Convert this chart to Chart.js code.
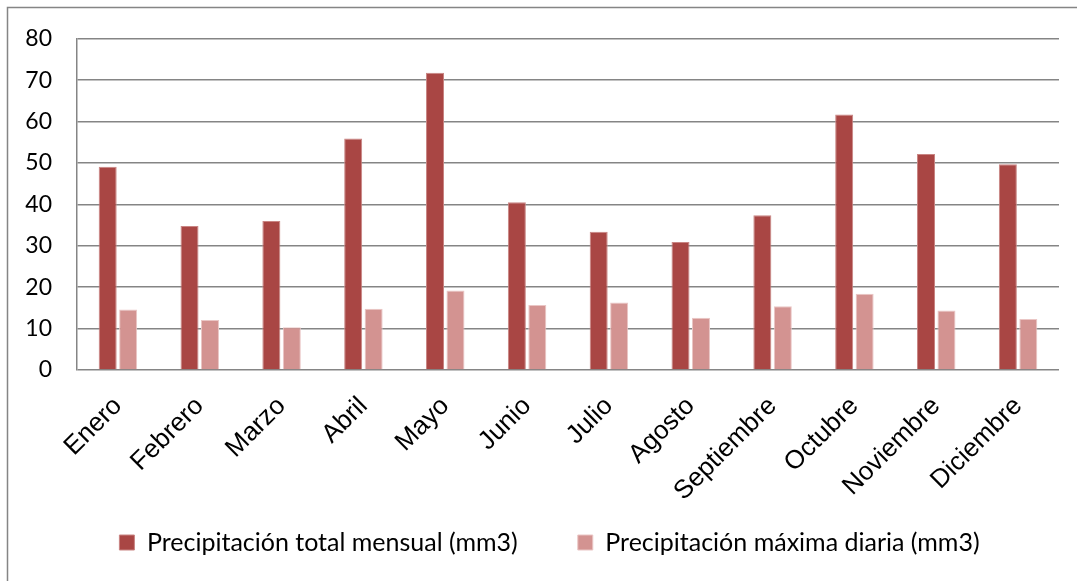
<!DOCTYPE html>
<html>
<head>
<meta charset="utf-8">
<script src="https://cdn.jsdelivr.net/npm/chart.js@4/dist/chart.umd.min.js"></script>
<style>
  html, body { margin: 0; padding: 0; background: #fff; overflow: hidden; }
  #wrap { width: 1077px; height: 581px; }
</style>
</head>
<body>
<div id="wrap"><canvas id="c" width="1077" height="581"></canvas></div>
<script>
// Monthly precipitation: total per month and maximum daily value
const meses = ['Enero', 'Febrero', 'Marzo', 'Abril', 'Mayo', 'Junio', 'Julio',
               'Agosto', 'Septiembre', 'Octubre', 'Noviembre', 'Diciembre'];
const totalMensual = [49.1, 34.8, 36.0, 55.9, 71.8, 40.5, 33.4, 30.9, 37.4, 61.7, 52.2, 49.7];
const maximaDiaria = [14.6, 12.1, 10.3, 14.8, 19.2, 15.7, 16.3, 12.6, 15.4, 18.4, 14.4, 12.3];
const yTicks = [0, 10, 20, 30, 40, 50, 60, 70, 80];

const serieNombres = ['Precipitación total mensual (mm3)', 'Precipitación máxima diaria (mm3)'];

const gridGray = '#858585';

// White page background plus the thin frame around the whole chart
const framePlugin = {
  id: 'frame',
  beforeDraw(chart) {
    const ctx = chart.ctx;
    ctx.save();
    ctx.fillStyle = '#ffffff';
    ctx.fillRect(0, 0, chart.width, chart.height);
    ctx.strokeStyle = gridGray;
    ctx.lineWidth = 1.5;
    ctx.strokeRect(7.5, 7.5, chart.width + 20, chart.height + 20);
    ctx.restore();
  }
};

// Keep the legend band compact while the item spacing stays wide,
// and nudge the legend row a little to the right
const LEGEND_BAND = 90;
const LEGEND_SHIFT = 20;
const legendBandPlugin = {
  id: 'legendBand',
  beforeLayout(chart) {
    const lg = chart.legend;
    if (lg && !lg._bandPatched) {
      const fit = lg.fit;
      lg.fit = function () {
        fit.call(this);
        this.height = LEGEND_BAND;
      };
      lg._bandPatched = true;
    }
  },
  afterLayout(chart) {
    const lg = chart.legend;
    if (lg) {
      lg.left += LEGEND_SHIFT;
      lg.right += LEGEND_SHIFT;
    }
  }
};

new Chart(document.getElementById('c'), {
  type: 'bar',
  data: {
    labels: meses,
    datasets: [
      {
        label: serieNombres[0],
        data: totalMensual,
        backgroundColor: '#A94644',
        borderColor: '#C98583',
        borderWidth: 1,
        borderSkipped: 'bottom',
        barPercentage: 0.88,
        categoryPercentage: 0.5
      },
      {
        label: serieNombres[1],
        data: maximaDiaria,
        backgroundColor: '#D39391',
        borderColor: '#EAC6C5',
        borderWidth: 1,
        borderSkipped: 'bottom',
        barPercentage: 0.88,
        categoryPercentage: 0.5
      }
    ]
  },
  options: {
    responsive: false,
    animation: false,
    devicePixelRatio: 1,
    layout: { padding: { top: 38, left: 0, right: 18, bottom: 21 } },
    scales: {
      x: {
        grid: { display: false, drawTicks: false },
        border: { display: false },
        ticks: {
          autoSkip: false,
          maxRotation: 45,
          minRotation: 45,
          padding: 21,
          color: '#000',
          font: { family: '"Liberation Sans", Arial, sans-serif', size: 26 }
        },
        afterFit(scale) {
          scale.height = 100;
          // let the slanted month names run past the axis band
          scale._computeLabelArea = function () { return undefined; };
        }
      },
      y: {
        min: yTicks[0],
        max: yTicks[yTicks.length - 1],
        afterBuildTicks(scale) { scale.ticks = yTicks.map(v => ({ value: v })); },
        grid: { color: gridGray, lineWidth: 1.5, drawTicks: false },
        border: { display: true, color: gridGray, width: 1.5 },
        ticks: {
          padding: 25,
          color: '#000',
          font: { family: 'Lato, "Open Sans", sans-serif', size: 23 }
        },
        afterFit(scale) { scale.width = 77; }
      }
    },
    plugins: {
      legend: {
        position: 'bottom',
        labels: {
          boxWidth: 15,
          boxHeight: 15,
          padding: 60,
          color: '#000',
          font: { family: 'Lato, "Open Sans", sans-serif', size: 25 }
        }
      },
      tooltip: { enabled: false }
    }
  },
  plugins: [framePlugin, legendBandPlugin]
});
</script>
</body>
</html>
